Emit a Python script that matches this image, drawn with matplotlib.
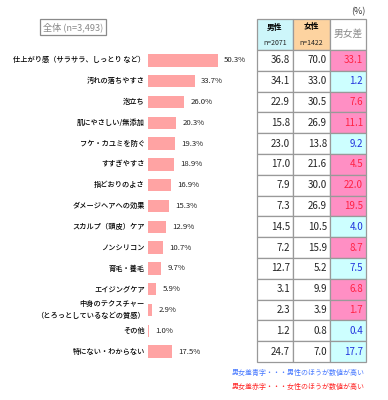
import matplotlib.pyplot as plt
from matplotlib.patches import Rectangle

plt.rcParams['font.family'] = ['Noto Sans CJK JP', 'DejaVu Sans']

labels = ["仕上がり感（サラサラ、しっとり など）", "汚れの落ちやすさ", "泡立ち", "肌にやさしい/無添加",
          "フケ・カユミを防ぐ", "すすぎやすさ", "指どおりのよさ", "ダメージヘアへの効果",
          "スカルプ（頭皮）ケア", "ノンシリコン", "育毛・養毛", "エイジングケア",
          "中身のテクスチャー\n（とろっとしているなどの質感）", "その他", "特にない・わからない"]
total = [50.3, 33.7, 26.0, 20.3, 19.3, 18.9, 16.9, 15.3, 12.9, 10.7, 9.7, 5.9, 2.9, 1.0, 17.5]
male = [36.8, 34.1, 22.9, 15.8, 23.0, 17.0, 7.9, 7.3, 14.5, 7.2, 12.7, 3.1, 2.3, 1.2, 24.7]
female = [70.0, 33.0, 30.5, 26.9, 13.8, 21.6, 30.0, 26.9, 10.5, 15.9, 5.2, 9.9, 3.9, 0.8, 7.0]
diff = [33.1, 1.2, 7.6, 11.1, 9.2, 4.5, 22.0, 19.5, 4.0, 8.7, 7.5, 6.8, 1.7, 0.4, 17.7]

W, H = 388, 400
fig = plt.figure(figsize=(W / 100, H / 100), dpi=100)

# overlay in pixel coordinates for table and texts
ov = fig.add_axes([0, 0, 1, 1])
ov.set_xlim(0, W)
ov.set_ylim(H, 0)
ov.axis('off')

top, bottom = 50, 362
n = len(labels)
rh = (bottom - top) / n

# bar axes
bx0, bx1 = 148, 255
ax = fig.add_axes([bx0 / W, 1 - bottom / H, (bx1 - bx0) / W, (bottom - top) / H])
ax.set_xlim(0, (bx1 - bx0) / 1.39)
ax.set_ylim(n - 0.5, -0.5)
ax.axis('off')
ax.barh(range(n), total, height=0.6, color='#ffa3a3')
for i, v in enumerate(total):
    ax.text(v + 4.5, i, f"{v:.1f}%", va='center', ha='left', fontsize=5.6, color='#222222')
    ov.text(145, top + rh * (i + 0.5), labels[i], ha='right', va='center', fontsize=5.2,
            color='#000000', linespacing=1.6, multialignment='right', fontweight='medium')

# summary box
ov.text(73, 27, "全体 (n=3,493)", ha='center', va='center', fontsize=6.6, color='#8a8a8a',
        bbox=dict(boxstyle='square,pad=0.35', fc='white', ec='#8a8a8a', lw=0.9))
ov.text(358, 12, "(%)", ha='center', va='center', fontsize=6.5, color='#333333')

# table
cols = [257, 293, 330, 366]
edge = '#999999'
ov.add_patch(Rectangle((cols[0], 19), cols[1] - cols[0], top - 19, fc='#cdf6fa', ec=edge, lw=0.9))
ov.add_patch(Rectangle((cols[1], 19), cols[2] - cols[1], top - 19, fc='#fdd3a0', ec=edge, lw=0.9))
ov.add_patch(Rectangle((cols[2], 19), cols[3] - cols[2], top - 19, fc='white', ec=edge, lw=0.9))
ov.text((cols[0] + cols[1]) / 2, 27, "男性", ha='center', va='center', fontsize=5.6, fontweight='bold')
ov.text((cols[0] + cols[1]) / 2, 43, "n=2071", ha='center', va='center', fontsize=5, color='#222222')
ov.text((cols[1] + cols[2]) / 2, 27, "女性", ha='center', va='center', fontsize=5.6, fontweight='bold')
ov.text((cols[1] + cols[2]) / 2, 43, "n=1422", ha='center', va='center', fontsize=5, color='#222222')
ov.text((cols[2] + cols[3]) / 2, 34, "男女差", ha='center', va='center', fontsize=7, color='#888888')

for i in range(n):
    y0 = top + rh * i
    yc = y0 + rh / 2
    male_high = male[i] > female[i]
    ov.add_patch(Rectangle((cols[0], y0), cols[1] - cols[0], rh, fc='white', ec=edge, lw=0.9))
    ov.add_patch(Rectangle((cols[1], y0), cols[2] - cols[1], rh, fc='white', ec=edge, lw=0.9))
    ov.add_patch(Rectangle((cols[2], y0), cols[3] - cols[2], rh,
                           fc='#cdffff' if male_high else '#ff8fc4', ec=edge, lw=0.9))
    ov.text(cols[1] - 3, yc, f"{male[i]:.1f}", ha='right', va='center', fontsize=7, color='#222222')
    ov.text(cols[2] - 3, yc, f"{female[i]:.1f}", ha='right', va='center', fontsize=7, color='#222222')
    ov.text(cols[3] - 3, yc, f"{diff[i]:.1f}", ha='right', va='center', fontsize=7,
            color='#2233dd' if male_high else '#ff2244')

ov.text(365, 373, "男女差青字・・・男性のほうが数値が高い", ha='right', va='center', fontsize=5, color='#4477ff')
ov.text(365, 387, "男女差赤字・・・女性のほうが数値が高い", ha='right', va='center', fontsize=5, color='#ff2222')

fig.savefig("out.png", dpi=100)
